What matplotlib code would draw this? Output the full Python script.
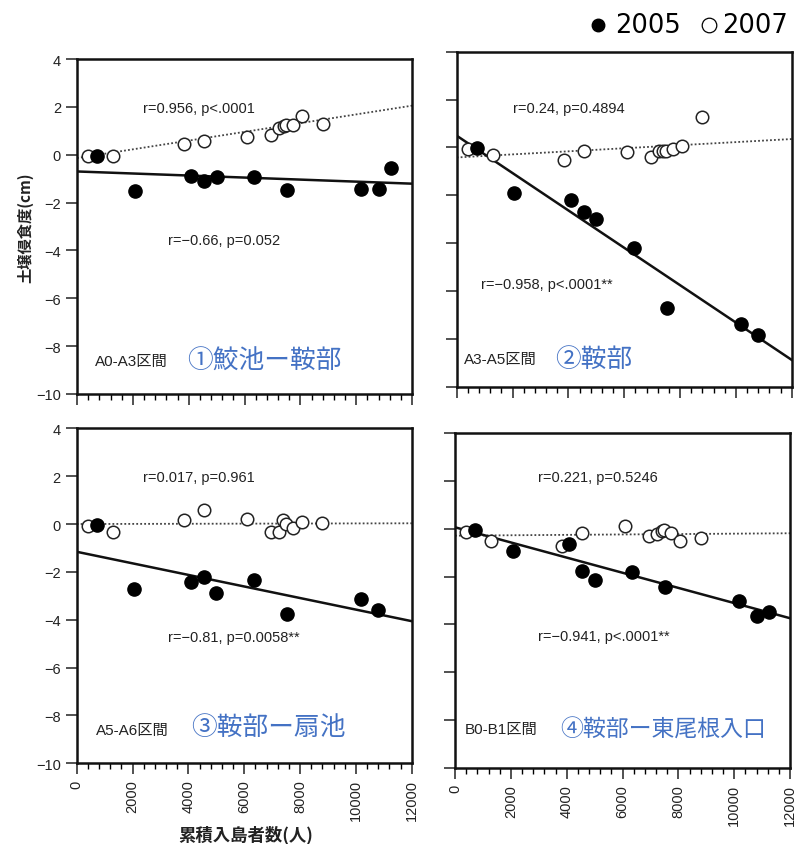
import numpy as np
import matplotlib
matplotlib.use("Agg")
import matplotlib.pyplot as plt
from matplotlib.ticker import MultipleLocator
from matplotlib.lines import Line2D

plt.rcParams['font.family'] = ['Liberation Sans', 'Noto Sans CJK JP', 'DejaVu Sans']

# ---------------- data ----------------
x05 = [730, 2070, 4100, 4550, 5000, 6340, 7530, 10190, 10810, 11260]
x07 = [400, 1300, 3830, 4550, 6100, 6950, 7250, 7400, 7500, 7740, 8070, 8800]

y05_p1 = [-0.07, -1.51, -0.91, -1.09, -0.95, -0.93, -1.46, -1.42, -1.42, -0.56]
y07_p1 = [-0.07, -0.04, 0.45, 0.59, 0.73, 0.81, 1.12, 1.18, 1.23, 1.23, 1.63, 1.30]
y05_p2 = [-0.04, -1.92, -2.19, -2.69, -3.00, -4.22, -6.70, -7.39, -7.83, np.nan]
y07_p2 = [-0.07, -0.31, -0.52, -0.17, -0.21, -0.39, -0.17, -0.17, -0.15, -0.07, 0.04, 1.28]
y05_p3 = [-0.04, -2.73, -2.41, -2.21, -2.87, -2.35, -3.75, -3.12, -3.59, np.nan]
y07_p3 = [-0.10, -0.35, 0.18, 0.57, 0.20, -0.32, -0.32, 0.18, 0.00, -0.17, 0.07, 0.04]
y05_p4 = [-0.04, -0.94, -0.65, -1.77, -2.14, -1.80, -2.45, -3.03, -3.66, -3.46]
y07_p4 = [-0.12, -0.52, -0.71, -0.19, 0.13, -0.31, -0.24, -0.10, -0.04, -0.19, -0.51, -0.38]

fit_x = [0, 12000]
fit05_p1 = [-0.70, -1.21]
fit07_p1 = [-0.14, 2.05]
fit05_p2 = [0.49, -8.88]
fit07_p2 = [-0.42, 0.35]
fit05_p3 = [-1.16, -4.06]
fit07_p3 = [0.00, 0.03]
fit05_p4 = [0.06, -3.74]
fit07_p4 = [-0.29, -0.19]

stat07 = ["r=0.956, p<.0001", "r=0.24, p=0.4894", "r=0.017, p=0.961", "r=0.221, p=0.5246"]
stat05 = ["r=\u22120.66, p=0.052", "r=\u22120.958, p<.0001**", "r=\u22120.81, p=0.0058**", "r=\u22120.941, p<.0001**"]
sections = ["A0-A3区間", "A3-A5区間", "A5-A6区間", "B0-B1区間"]
names = ["①鮫池ー鞍部", "②鞍部", "③鞍部ー扇池", "④鞍部ー東尾根入口"]

xticks = [0, 2000, 4000, 6000, 8000, 10000, 12000]
yticks = [-10, -8, -6, -4, -2, 0, 2, 4]
ylabel = "土壌侵食度(cm)"
xlabel = "累積入島者数(人)"
legend_labels = ["2005", "2007"]

# ---------------- layout ----------------
W, H = 800, 845
fig = plt.figure(figsize=(W / 100, H / 100), dpi=100)

def box(l, t, w, h):
    return [l / W, 1 - (t + h) / H, w / W, h / H]

rects = [box(77, 60, 335, 335), box(456.7, 52.7, 335, 335),
         box(76.7, 429.3, 335, 335), box(455, 434, 335, 335)]

ys05 = [y05_p1, y05_p2, y05_p3, y05_p4]
ys07 = [y07_p1, y07_p2, y07_p3, y07_p4]
fits05 = [fit05_p1, fit05_p2, fit05_p3, fit05_p4]
fits07 = [fit07_p1, fit07_p2, fit07_p3, fit07_p4]

# text positions (data coords)
pos07 = [(2360, 1.95), (2000, 1.63), (2364, 1.96), (2984, 2.15)]
pos05 = [(3260, -3.57), (870, -5.70), (3280, -4.73), (2984, -4.50)]
possec = [(645, -8.62), (265, -8.85), (690, -8.60), (333, -8.36)]
posname = [(3940, -8.62), (3520, -8.85), (4085, -8.50), (3761, -8.36)]
namesize = [18.5, 18.5, 18.5, 16.5]

axes = []
for i, r in enumerate(rects):
    ax = fig.add_axes(r)
    axes.append(ax)
    ax.set_xlim(0, 12000)
    ax.set_ylim(-10, 4)
    ax.plot(fit_x, fits07[i], linestyle=(0, (1, 1.2)), color='#444444', lw=1.3, zorder=2)
    ax.plot(fit_x, fits05[i], linestyle='-', color='#111111', lw=1.8, zorder=2)
    ax.plot(x07, ys07[i], 'o', ms=9, mfc='white', mec='#222222', mew=1.1, zorder=3)
    ax.plot(x05, ys05[i], 'o', ms=9.5, mfc='black', mec='black', zorder=4)
    ax.text(*pos07[i], stat07[i], fontsize=10.5, ha='left', va='center', color='#222222')
    ax.text(*pos05[i], stat05[i], fontsize=10.5, ha='left', va='center', color='#222222')
    ax.text(*possec[i], sections[i], fontsize=11, ha='left', va='center', color='#222222')
    ax.text(*posname[i], names[i], fontsize=namesize[i], ha='left', va='center',
            color='#4472C4', family=['Noto Sans CJK JP', 'DejaVu Sans'])
    ax.set_xticks(xticks)
    ax.xaxis.set_minor_locator(MultipleLocator(400))
    ax.set_yticks(yticks)
    ax.tick_params(axis='both', which='major', direction='out', length=8, width=1.1,
                   labelsize=10.5, colors='#222222')
    ax.tick_params(axis='x', which='minor', direction='out', length=4, width=1.0)
    for s in ax.spines.values():
        s.set_linewidth(1.8)
        s.set_color('#111111')
    if i in (0, 1):
        ax.tick_params(axis='x', labelbottom=False)
    else:
        ax.tick_params(axis='x', labelrotation=90)
    if i in (1, 3):
        ax.tick_params(axis='y', labelleft=False)
    else:
        ax.set_yticklabels([str(v).replace('-', '\u2212') for v in yticks])

fig.text(25 / W, 1 - 228 / H, ylabel, rotation=90, ha='center', va='center',
         fontsize=11, fontweight='bold', family=['Noto Sans CJK JP', 'DejaVu Sans'], color='#222222')
fig.text(246 / W, 1 - 835 / H, xlabel, ha='center', va='center',
         fontsize=12.5, fontweight='bold', family=['Noto Sans CJK JP', 'DejaVu Sans'], color='#222222')

# legend: symbols + labels
ly = 1 - 26 / H
fig.add_artist(Line2D([597.5 / W], [ly], marker='o', ms=9, mfc='black', mec='black',
                      transform=fig.transFigure))
fig.add_artist(Line2D([709 / W], [ly], marker='o', ms=10.5, mfc='white', mec='black', mew=0.9,
                      transform=fig.transFigure))
fig.text(615 / W, ly, legend_labels[0], ha='left', va='center', fontsize=18.5,
         family='DejaVu Sans', color='black')
fig.text(722 / W, ly, legend_labels[1], ha='left', va='center', fontsize=18.5,
         family='DejaVu Sans', color='black')

fig.savefig("out.png", dpi=100)
